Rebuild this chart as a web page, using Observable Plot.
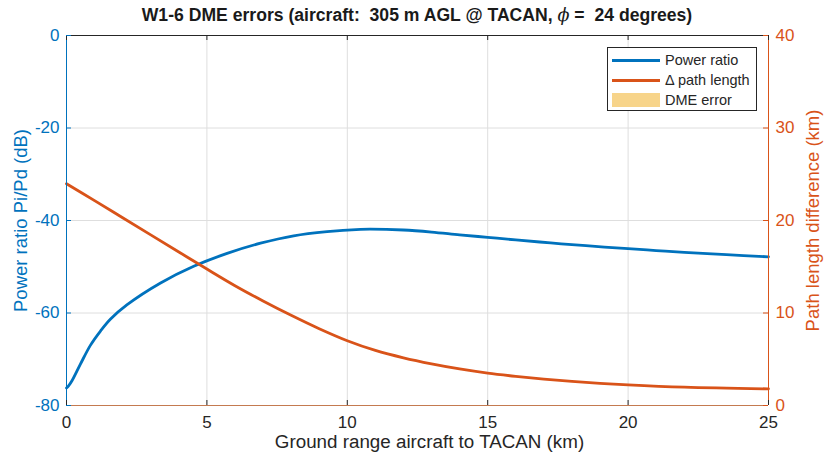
<!DOCTYPE html>
<html><head><meta charset="utf-8">
<script src="https://cdn.jsdelivr.net/npm/d3@7"></script>
<script src="https://cdn.jsdelivr.net/npm/@observablehq/plot@0.6"></script>
<style>
html,body{margin:0;padding:0;background:#fff;}
#wrap{position:relative;width:826px;height:457px;font-family:"Liberation Sans",Arial,Helvetica,sans-serif;color:#262626;}
#title{margin-left:66px;width:702px;height:26px;line-height:30px;text-align:center;font-weight:bold;font-size:17.6px;white-space:pre;color:#1a1a1a;}
#title .phi{font-weight:normal;font-style:italic;font-family:"DejaVu Serif",serif;}
#legend{position:absolute;left:607px;top:47px;width:150px;height:64px;box-sizing:border-box;border:1px solid #262626;background:#fff;font-size:14.5px;}
#legend .row{position:absolute;left:0;height:18px;line-height:18px;}
#legend .sw{position:absolute;left:4px;width:48px;}
#legend .lb{position:absolute;left:57px;white-space:nowrap;top:0;}
</style></head><body>
<div id="wrap">
<div id="title"></div>
<div id="chart"></div>
<div id="legend"></div>
</div>
<script>
// ---- data ----
const titleText = "W1-6 DME errors (aircraft:  305 m AGL @ TACAN, ";
const titleTail = " =  24 degrees)";
const xLabel = "Ground range aircraft to TACAN (km)";
const yLeftLabel = "Power ratio Pi/Pd (dB)";
const yRightLabel = "Path length difference (km)";
const legendLabels = ["Power ratio", "\u0394 path length", "DME error"];

const xTicks = [0, 5, 10, 15, 20, 25];
const yTicksDb = [-80, -60, -40, -20, 0];
const yTicksKm = [0, 10, 20, 30, 40];

// Power ratio (dB) vs ground range (km)
const powerX  = [0, 0.08, 0.2, 0.5, 0.85, 1.21, 1.57, 2.16, 3.35, 4.53, 5.72, 6.91, 8.09, 9.28, 10.47, 10.82, 12, 13, 14, 15, 16, 17.24, 18.5, 20, 21, 22, 23.5, 25];
const powerDb = [-76.2, -75.7, -74.6, -71.0, -67.0, -63.9, -61.3, -58.2, -53.5, -49.9, -47.1, -44.9, -43.3, -42.4, -41.9, -41.85, -42.05, -42.5, -43.1, -43.65, -44.2, -44.85, -45.45, -46.1, -46.5, -46.9, -47.4, -47.85];

// Path length difference (km) vs ground range (km)
const pathX  = [0, 1, 2, 3, 4, 5, 6, 7, 8, 9, 10, 11, 12, 13, 14, 15, 16, 17, 18, 19, 20, 22, 25];
const pathKm = [23.97, 22.15, 20.3, 18.45, 16.6, 14.75, 12.95, 11.3, 9.75, 8.3, 7.0, 5.95, 5.15, 4.5, 3.95, 3.5, 3.15, 2.85, 2.6, 2.4, 2.23, 1.98, 1.8];

// ---- colours ----
const BLUE = "#0072BD", ORANGE = "#D95319", DME = "#F7D48A", DARK = "#262626";

const power = powerX.map((x, i) => ({x, v: powerDb[i]}));
const path = pathX.map((x, i) => ({x, v: pathKm[i]}));
// right axis (0..40 km) shares the plot height with left axis (-80..0 dB)
const kmToDb = km => km * 2 - 80;

const H = 431, MT = 9, MB = 52, ML = 66, MR = 58;
const FH = H - MT - MB, FW = 826 - ML - MR;

const chart = Plot.plot({
  width: 826, height: H,
  marginTop: MT, marginBottom: MB, marginLeft: ML, marginRight: MR,
  x: {domain: [0, 25]},
  y: {domain: [-80, 0]},
  style: {fontFamily: '"Liberation Sans",Arial,Helvetica,sans-serif', fontSize: "17px", background: "#fff", overflow: "visible"},
  marks: [
    Plot.gridX(xTicks.slice(1, -1), {stroke: "#dedede", strokeOpacity: 1}),
    Plot.gridY(yTicksDb.slice(1, -1), {stroke: "#dedede", strokeOpacity: 1}),
    Plot.line(power, {x: "x", y: "v", stroke: BLUE, strokeWidth: 2.8, curve: "catmull-rom"}),
    Plot.line(path, {x: "x", y: d => kmToDb(d.v), stroke: ORANGE, strokeWidth: 2.8, curve: "catmull-rom"}),
    // box
    Plot.ruleY([0], {stroke: DARK, strokeWidth: 1}),
    Plot.ruleY([-80], {stroke: "#C47A50", strokeWidth: 1.2}),
    Plot.ruleX([0], {stroke: BLUE, strokeWidth: 1}),
    Plot.ruleX([25], {stroke: ORANGE, strokeWidth: 1}),
    // inward ticks
    Plot.ruleX(xTicks, {insetTop: FH - 5, stroke: DARK}),
    Plot.ruleX(xTicks, {insetBottom: FH - 5, stroke: DARK}),
    Plot.ruleY(yTicksDb, {insetRight: FW - 5, stroke: BLUE}),
    Plot.ruleY(yTicksKm.map(kmToDb), {insetLeft: FW - 5, stroke: ORANGE}),
    // axes
    Plot.axisX(xTicks, {tickSize: 0, tickPadding: 10, fill: DARK, label: null, tickFormat: d => String(d), fontSize: 17}),
    Plot.axisY(yTicksDb, {anchor: "left", tickSize: 0, tickPadding: 7, fill: BLUE, label: null, tickFormat: d => String(d), fontSize: 17}),
    Plot.axisY(yTicksKm.map(kmToDb), {anchor: "right", tickSize: 0, tickPadding: 7, fill: ORANGE, label: null, tickFormat: d => String((d + 80) / 2), fontSize: 17}),
    // axis titles
    Plot.text([xLabel], {text: d => d, frameAnchor: "bottom", dx: 12, dy: 36, fill: DARK, fontSize: 18.8, textAnchor: "middle", lineAnchor: "middle"}),
    Plot.text([yLeftLabel], {text: d => d, frameAnchor: "left", dx: -45, rotate: -90, fill: BLUE, fontSize: 18.5, textAnchor: "middle", lineAnchor: "middle"}),
    Plot.text([yRightLabel], {text: d => d, frameAnchor: "right", dx: 45, rotate: -90, fill: ORANGE, fontSize: 18.5, textAnchor: "middle", lineAnchor: "middle"})
  ]
});
document.getElementById("chart").appendChild(chart);

// title
const t = document.getElementById("title");
t.appendChild(document.createTextNode(titleText));
const phi = document.createElement("span"); phi.className = "phi"; phi.textContent = "\u03D5";
t.appendChild(phi);
t.appendChild(document.createTextNode(titleTail));

// legend
const lg = document.getElementById("legend");
const sw = [
  {type: "line", color: BLUE},
  {type: "line", color: ORANGE},
  {type: "patch", color: DME}
];
legendLabels.forEach((lab, i) => {
  const row = document.createElement("div");
  row.className = "row";
  row.style.top = (3 + i * 20) + "px";
  row.style.width = "148px";
  const s = document.createElement("div");
  s.className = "sw";
  if (sw[i].type === "line") { s.style.top = "8px"; s.style.height = "3px"; }
  else { s.style.top = "2px"; s.style.height = "14px"; }
  s.style.background = sw[i].color;
  const l = document.createElement("div");
  l.className = "lb"; l.textContent = lab;
  row.appendChild(s); row.appendChild(l);
  lg.appendChild(row);
});
</script>
</body></html>
